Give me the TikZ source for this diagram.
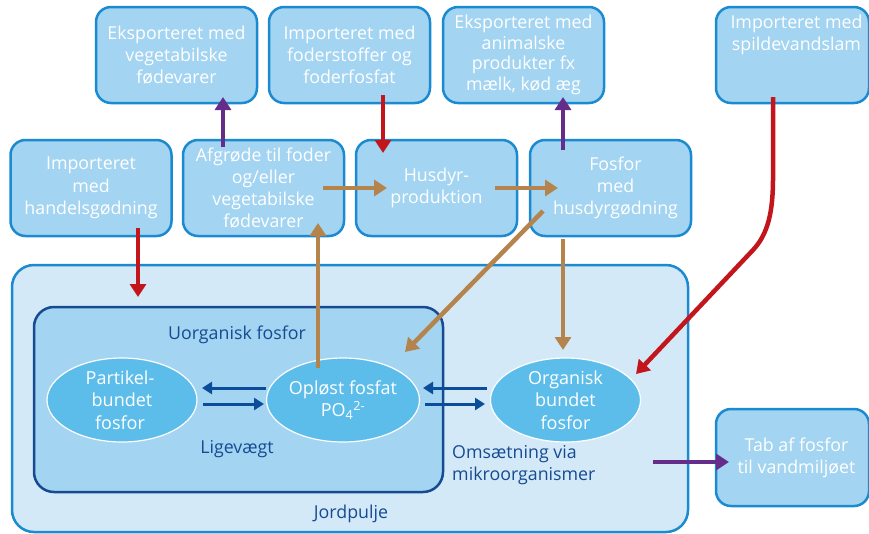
\documentclass[tikz,border=0pt]{standalone}
\usepackage{fontspec}
\setmainfont{Open Sans}
\usetikzlibrary{arrows.meta,shapes.geometric}
\definecolor{boxfill}{HTML}{A3D4F1}
\definecolor{boxline}{HTML}{1A8AD1}
\definecolor{outerfill}{HTML}{D4E9F8}
\definecolor{ellfill}{HTML}{5CBDEB}
\definecolor{darkblue}{HTML}{164B92}
\definecolor{brownc}{HTML}{B5844C}
\definecolor{redc}{HTML}{C3161C}
\definecolor{purplec}{HTML}{652D8A}
\definecolor{arrblue}{HTML}{0B4D9A}
\begin{document}
\begin{tikzpicture}[x=1pt,y=-1pt,
  box/.style={draw=boxline,fill=boxfill,line width=2.5pt,rounded corners=15pt,
    minimum width=161pt,minimum height=96pt,text=white,align=center,
    font=\fontsize{17.8}{22.3}\selectfont,inner sep=0pt},
  ell/.style={draw=white,fill=ellfill,line width=1.2pt,ellipse,
    minimum width=150pt,minimum height=84pt,text=white,align=center,
    font=\fontsize{18}{22.5}\selectfont,inner sep=0pt},
  lbl/.style={text=darkblue,font=\fontsize{17.8}{22}\selectfont,inner sep=0pt},
  fat/.style={line width=4.5pt,-{Triangle[width=16pt,length=13pt]}},
  thin/.style={line width=3pt,draw=arrblue,-{Triangle[width=12pt,length=10pt]}},
]
\useasboundingbox (0,0) rectangle (869,533);
% outer soil pool
\node[draw=boxline,fill=outerfill,line width=2.5pt,rounded corners=22pt,
  minimum width=676pt,minimum height=267pt,inner sep=0pt] (jord) at (350,398.5) {};
\node[draw=darkblue,fill=boxfill,line width=2.5pt,rounded corners=20pt,
  minimum width=409pt,minimum height=185pt,inner sep=0pt] (uorg) at (238.5,399.5) {};
\node[lbl] (jordlbl) at (351,514) {Jordpulje};
\node[lbl] (uorglbl) at (237,335) {Uorganisk fosfor};
\node[lbl] (ligelbl) at (237,449) {Ligevægt};
\node[lbl,align=left,anchor=west] (omslbl) at (452,465) {Omsætning via\\mikroorganismer};
% ellipses
\node[ell] (part) at (122,400) {Partikel-\hspace*{4pt}\\bundet\hspace*{4pt}\\fosfor\hspace*{4pt}};
\node[ell] (oplo) at (343,400) {Opløst fosfat\\PO\textsubscript{4}\textsuperscript{2-}};
\node[ell] (orga) at (565.5,400) {Organisk\\bundet\\fosfor};
% top boxes
\node[box] (eksveg) at (176.5,55) {Eksporteret med\\vegetabilske\\fødevarer};
\node[box] (impfod) at (349.5,55) {Importeret med\\foderstoffer og\\foderfosfat};
\node[box,font=\fontsize{17.8}{20.5}\selectfont] (eksani) at (523.5,55) {Eksporteret med\\animalske\\produkter fx\\mælk, kød æg};
\node[box,minimum width=153pt] (impspi) at (792.5,55) {\hspace*{8pt}Importeret med\\\hspace*{8pt}spildevandslam\\[22pt]};
% middle boxes
\node[box] (imphan) at (91,188) {Importeret\\med\\handelsgødning};
\node[box] (afgr) at (263.5,188) {Afgrøde til foder\\og/eller\\vegetabilske\\fødevarer};
\node[box] (husd) at (436.5,188) {Husdyr-\\produktion};
\node[box] (fosf) at (610.5,188) {\hspace*{10pt}Fosfor\\\hspace*{10pt}med\\\hspace*{10pt}husdyrgødning};
\node[box,minimum width=153pt,minimum height=97pt] (tab) at (792.5,457.5) {\hspace*{8pt}Tab af fosfor\\\hspace*{8pt}til vandmiljøet};
% coordinates for arrows
\coordinate (r1s) at (138,228);
\coordinate (r1e) at (138,297);
\coordinate (p1s) at (223,147);
\coordinate (p1e) at (223,97);
\coordinate (r2s) at (383,95);
\coordinate (r2e) at (383,153);
\coordinate (b1s) at (323,188);
\coordinate (b1e) at (387,188);
\coordinate (b2s) at (495,188);
\coordinate (b2e) at (558,188);
\coordinate (p2s) at (563,150);
\coordinate (p2e) at (563,97);
\coordinate (b3s) at (543,211);
\coordinate (b3e) at (405,352);
\coordinate (b4s) at (563,239);
\coordinate (b4e) at (563,350);
\coordinate (b5s) at (318,368);
\coordinate (b5e) at (318,223);
\coordinate (r3s) at (773,97);
\coordinate (r3e) at (636,374);
\coordinate (p3s) at (653,462);
\coordinate (p3e) at (729,462);
% arrows
\draw[fat,draw=redc] (r1s) -- (r1e);
\draw[fat,draw=purplec] (p1s) -- (p1e);
\draw[fat,draw=redc] (r2s) -- (r2e);
\draw[fat,draw=brownc] (b1s) -- (b1e);
\draw[fat,draw=brownc] (b2s) -- (b2e);
\draw[fat,draw=purplec] (p2s) -- (p2e);
\draw[fat,draw=brownc] (b3s) -- (b3e);
\draw[fat,draw=brownc] (b4s) -- (b4e);
\draw[fat,draw=brownc] (b5s) -- (b5e);
\draw[fat,draw=redc] (r3s) -- (773,178) .. controls (773,212) and (768,234) .. (753,250) -- (r3e);
\draw[fat,draw=purplec] (p3s) -- (p3e);
% equilibrium arrows
\coordinate (e1a) at (266,388); \coordinate (e1b) at (202,388);
\coordinate (e2a) at (203,404); \coordinate (e2b) at (264,404);
\coordinate (e3a) at (487,388); \coordinate (e3b) at (423,388);
\coordinate (e4a) at (425,404); \coordinate (e4b) at (485,404);
\draw[thin] (e1a) -- (e1b);
\draw[thin] (e2a) -- (e2b);
\draw[thin] (e3a) -- (e3b);
\draw[thin] (e4a) -- (e4b);
\end{tikzpicture}
\end{document}
